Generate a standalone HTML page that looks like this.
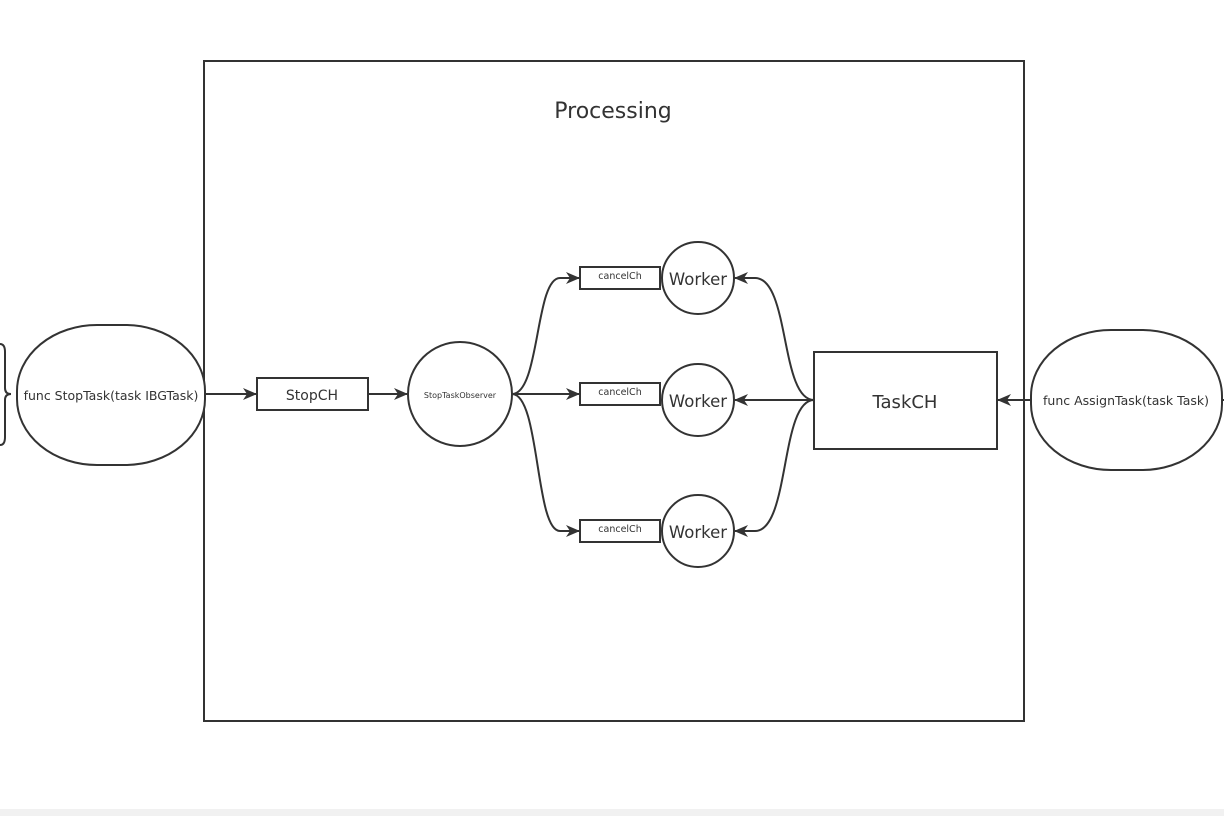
<!DOCTYPE html>
<html><head><meta charset="utf-8"><style>
html,body{margin:0;padding:0;background:#fff;}
svg{display:block;}
text{font-family:"DejaVu Sans","Liberation Sans",sans-serif;fill:#333;}
</style></head><body>
<svg width="1224" height="816" viewBox="0 0 1224 816" xmlns="http://www.w3.org/2000/svg">
<defs>
<marker id="a" markerWidth="14" markerHeight="14" refX="13" refY="7" orient="auto" markerUnits="userSpaceOnUse">
<path d="M0,1 L14,7 L0,13 L4,7 Z" fill="#333"/>
</marker>
</defs>
<rect x="0" y="0" width="1224" height="816" fill="#fff"/>
<rect x="0" y="809" width="1224" height="7" fill="#f1f1f1"/>
<g fill="none" stroke="#333" stroke-width="2">
<rect x="204" y="61" width="820" height="660"/>
<path d="M0,344 Q5,344 5,352 L5,388 Q5,394 11,394 Q5,394 5,400 L5,437 Q5,445 0,445"/>
<rect x="17" y="325" width="188" height="140" rx="80" ry="66" fill="#fff"/>
<rect x="1031" y="330" width="191" height="140" rx="80" ry="66" fill="#fff"/>
<line x1="1222" y1="400" x2="1224" y2="400"/>
<rect x="257" y="378" width="111" height="32" fill="#fff"/>
<circle cx="460" cy="394" r="52" fill="#fff"/>
<rect x="580" y="267" width="80" height="22" fill="#fff"/>
<rect x="580" y="383" width="80" height="22" fill="#fff"/>
<rect x="580" y="520" width="80" height="22" fill="#fff"/>
<circle cx="698" cy="278" r="36" fill="#fff"/>
<circle cx="698" cy="400" r="36" fill="#fff"/>
<circle cx="698" cy="531" r="36" fill="#fff"/>
<rect x="814" y="352" width="183" height="97" fill="#fff"/>
<line x1="206" y1="394" x2="256" y2="394" marker-end="url(#a)"/>
<line x1="369" y1="394" x2="407" y2="394" marker-end="url(#a)"/>
<path d="M512,394 C540,394 535,278 560,278 L579,278" marker-end="url(#a)"/>
<line x1="512" y1="394" x2="579" y2="394" marker-end="url(#a)"/>
<path d="M512,394 C540,394 535,531 560,531 L579,531" marker-end="url(#a)"/>
<path d="M814,400 C780,400 790,278 755,278 L735,278" marker-end="url(#a)"/>
<line x1="814" y1="400" x2="735" y2="400" marker-end="url(#a)"/>
<path d="M814,400 C780,400 790,531 755,531 L735,531" marker-end="url(#a)"/>
<line x1="1031" y1="400" x2="998" y2="400" marker-end="url(#a)"/>
</g>
<text x="613" y="118" font-size="22" text-anchor="middle">Processing</text>
<text x="111" y="400" font-size="12.5" text-anchor="middle">func StopTask(task IBGTask)</text>
<text x="1126" y="405" font-size="12.5" text-anchor="middle">func AssignTask(task Task)</text>
<text x="312" y="400" font-size="14" text-anchor="middle">StopCH</text>
<text x="460" y="398" font-size="8" text-anchor="middle">StopTaskObserver</text>
<text x="620" y="279" font-size="9.5" text-anchor="middle">cancelCh</text>
<text x="620" y="395" font-size="9.5" text-anchor="middle">cancelCh</text>
<text x="620" y="532" font-size="9.5" text-anchor="middle">cancelCh</text>
<text x="698" y="285" font-size="16.5" text-anchor="middle">Worker</text>
<text x="698" y="407" font-size="16.5" text-anchor="middle">Worker</text>
<text x="698" y="538" font-size="16.5" text-anchor="middle">Worker</text>
<text x="905" y="408" font-size="18" text-anchor="middle">TaskCH</text>
</svg>
</body></html>
